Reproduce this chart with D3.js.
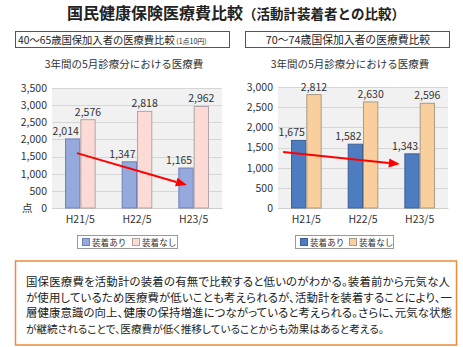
<!DOCTYPE html>
<html><head><meta charset="utf-8">
<script src="https://cdn.jsdelivr.net/npm/d3@7"></script>
<style>
html,body{margin:0;padding:0;background:#fff;}
text{font-family:"Noto Sans CJK JP","Noto Sans",sans-serif;fill:#333;}
</style></head>
<body><svg id="c" width="463" height="347"></svg>
<script>
// ---------- data ----------
const categories = ["H21/5", "H22/5", "H23/5"];
const seriesNames = ["装着あり", "装着なし"];
const leftWith = [2014, 1347, 1165];
const leftWithout = [2576, 2818, 2962];
const rightWith = [1675, 1582, 1343];
const rightWithout = [2812, 2630, 2596];
const leftTicks = [0, 500, 1000, 1500, 2000, 2500, 3000, 3500];
const rightTicks = [0, 500, 1000, 1500, 2000, 2500, 3000];
// arrows: [category position, value] start & end
const leftArrow = [[0.44, 1600], [2.38, 670]];
const rightArrow = [[0.09, 1390], [2.15, 1090]];
const mainTitle = "国民健康保険医療費比較";
const mainTitleSub = "（活動計装着者との比較）";
const leftHeader = "40～65歳国保加入者の医療費比較";
const leftHeaderNote = "(1点10円)";
const rightHeader = "70～74歳国保加入者の医療費比較";
const chartSubtitle = "3年間の5月診療分における医療費";
const bodyLines = [
  "国保医療費を活動計の装着の有無で比較すると低いのがわかる。装着前から元気な人",
  "が使用しているため医療費が低いことも考えられるが、活動計を装着することにより、一",
  "層健康意識の向上、健康の保持増進につながっていると考えられる。さらに、元気な状態",
  "が継続されることで、医療費が低く推移していることからも効果はあると考える。"
];
const bodyWidths = [424, 426, 426, 359];

const svg = d3.select("#c");
svg.append("rect").attr("width",463).attr("height",347).attr("fill","#fff");

// main title
const t = svg.append("text").attr("x",236).attr("y",19).attr("text-anchor","middle").style("font-weight","bold");
t.append("tspan").text(mainTitle).style("font-size","16px").style("fill","#222");
t.append("tspan").text(mainTitleSub).style("font-size","13.5px").style("fill","#222");

// header boxes
svg.append("rect").attr("x",15.5).attr("y",31.5).attr("width",214).attr("height",16).attr("fill","#fff").attr("stroke","#555");
const lh = svg.append("text").attr("x",18).attr("y",44);
lh.append("tspan").text(leftHeader).style("font-size","10.3px").style("fill","#222");
lh.append("tspan").text(" " + leftHeaderNote).style("font-size","7px").style("fill","#222");
svg.append("rect").attr("x",245.5).attr("y",31.5).attr("width",204).attr("height",16).attr("fill","#fff").attr("stroke","#555");
svg.append("text").attr("x",348).attr("y",44).attr("text-anchor","middle").text(rightHeader).style("font-size","10.8px").style("fill","#222");

function drawChart(opt){
  const g = svg.append("g");
  const x = d3.scaleBand().domain(categories).range([opt.left, opt.right]).paddingInner(0.46).paddingOuter(0.23);
  const xs = d3.scaleBand().domain(seriesNames).range([0, x.bandwidth()]).padding(0);
  const y = d3.scaleLinear().domain([0, opt.max]).range([opt.bottom, opt.top]);
  const xpos = d3.scaleLinear().domain([0,3]).range([opt.left, opt.right]);

  g.append("text").attr("x",opt.subX).attr("y",68).attr("text-anchor","middle").text(chartSubtitle).style("font-size","10.5px").style("fill","#333");

  g.append("rect").attr("x",opt.left).attr("y",opt.top).attr("width",opt.right-opt.left).attr("height",opt.bottom-opt.top).attr("fill","#f1f1f1");
  g.selectAll(".grid").data(opt.ticks).enter().append("line")
    .attr("x1",opt.left).attr("x2",opt.right)
    .attr("y1",d=>Math.round(y(d))+0.5).attr("y2",d=>Math.round(y(d))+0.5)
    .attr("stroke","#d6d6d6").attr("stroke-width",1);

  const ya = d3.axisLeft(y).tickValues(opt.ticks).tickSize(0).tickPadding(5).tickFormat(d3.format(","));
  const yg = g.append("g").attr("transform",`translate(${opt.left},0)`).call(ya);
  yg.select(".domain").remove();
  yg.selectAll("text").style("font-size","10.5px").style("fill","#333").style("font-family","'Noto Sans CJK JP',sans-serif");
  if (opt.unit) {
    g.append("text").attr("x",opt.unit).attr("y",y(0)+4).text("点").style("font-size","10.5px").style("fill","#333");
  }
  const xa = d3.axisBottom(x).tickSize(0).tickPadding(8);
  const xg = g.append("g").attr("transform",`translate(0,${opt.bottom})`).call(xa);
  xg.select(".domain").attr("stroke","#cfcfcf");
  xg.selectAll("text").style("font-size","10.5px").style("fill","#333").style("font-family","'Noto Sans CJK JP',sans-serif");

  const data = categories.map((c,i)=>({c, vals:[opt.with[i], opt.without[i]]}));
  const grp = g.selectAll(".grp").data(data).enter().append("g").attr("transform",d=>`translate(${x(d.c)},0)`);
  grp.selectAll("rect").data(d=>d.vals.map((v,j)=>({v,s:seriesNames[j],j}))).enter().append("rect")
    .attr("x",d=>xs(d.s)+0.5).attr("width",xs.bandwidth()-1)
    .attr("y",d=>y(d.v)).attr("height",d=>y(0)-y(d.v))
    .attr("fill",d=>opt.colors[d.j]).attr("stroke",d=>opt.strokes[d.j]).attr("stroke-width",1);
  grp.selectAll("text").data(d=>d.vals.map((v,j)=>({v,s:seriesNames[j],j}))).enter().append("text")
    .attr("x",d=>xs(d.s)+xs.bandwidth()/2 + (d.j===0?-7:0))
    .attr("y",d=>y(d.v)-4).attr("text-anchor","middle")
    .text(d=>d3.format(",")(d.v)).style("font-size","10.5px").style("fill","#333");

  const a = opt.arrow;
  const x1 = xpos(a[0][0]), y1 = y(a[0][1]), x2 = xpos(a[1][0]), y2 = y(a[1][1]);
  const ang = Math.atan2(y2-y1, x2-x1);
  const L = 11, W = 4.5;
  const bx = x2 - L*Math.cos(ang), by = y2 - L*Math.sin(ang);
  g.append("line").attr("x1",x1).attr("y1",y1).attr("x2",bx).attr("y2",by).attr("stroke","#f00").attr("stroke-width",2);
  g.append("path").attr("d",`M${x2},${y2}L${bx - W*Math.sin(ang)},${by + W*Math.cos(ang)}L${bx + W*Math.sin(ang)},${by - W*Math.cos(ang)}Z`).attr("fill","#f00");

  const lg = g.append("g");
  lg.append("rect").attr("x",opt.legX+0.5).attr("y",235.5).attr("width",opt.legW).attr("height",13).attr("fill","#fff").attr("stroke","#999");
  seriesNames.forEach((s,j)=>{
    const lx = opt.legX + 5 + j*opt.legStep;
    lg.append("rect").attr("x",lx+0.5).attr("y",238.5).attr("width",7).attr("height",7).attr("fill",opt.colors[j]).attr("stroke",opt.strokes[j]);
    lg.append("text").attr("x",lx+10).attr("y",245.5).text(s).style("font-size","8.6px").style("fill","#333");
  });
}

drawChart({left:52,right:222,top:88,bottom:208,max:3500,ticks:leftTicks,with:leftWith,without:leftWithout,
  colors:["#95a9dc","#fcdad6"],strokes:["#6f7fb8","#b0a4a4"],arrow:leftArrow,subX:124,unit:22,
  legX:77,legW:100,legStep:50});
drawChart({left:278,right:448,top:87,bottom:208,max:3000,ticks:rightTicks,with:rightWith,without:rightWithout,
  colors:["#4d7cc1","#f9d09d"],strokes:["#3e5f94","#a89a86"],arrow:rightArrow,subX:350,unit:null,
  legX:295,legW:98,legStep:49});

// bottom text box
svg.append("rect").attr("x",15.5).attr("y",261).attr("width",441).attr("height",84).attr("fill","#fff").attr("stroke","#ee8a3c").attr("stroke-width",1.5);
const base = 11.4;
svg.selectAll(".body").data(bodyLines).enter().append("text")
  .attr("x",26).attr("y",(d,i)=>286+i*15.7).text(d=>d)
  .style("font-size",base+"px").style("font-feature-settings","'palt'").style("fill","#222")
  .each(function(d,i){
    const w = this.getComputedTextLength();
    const target = bodyWidths[i];
    if (w > target) {
      d3.select(this).style("font-size",(base*target/w - 0.02)+"px");
    } else if (i < 3) {
      const n = d.length - 1;
      d3.select(this).style("letter-spacing",((target - w)/n)+"px");
    }
  });
</script></body></html>
